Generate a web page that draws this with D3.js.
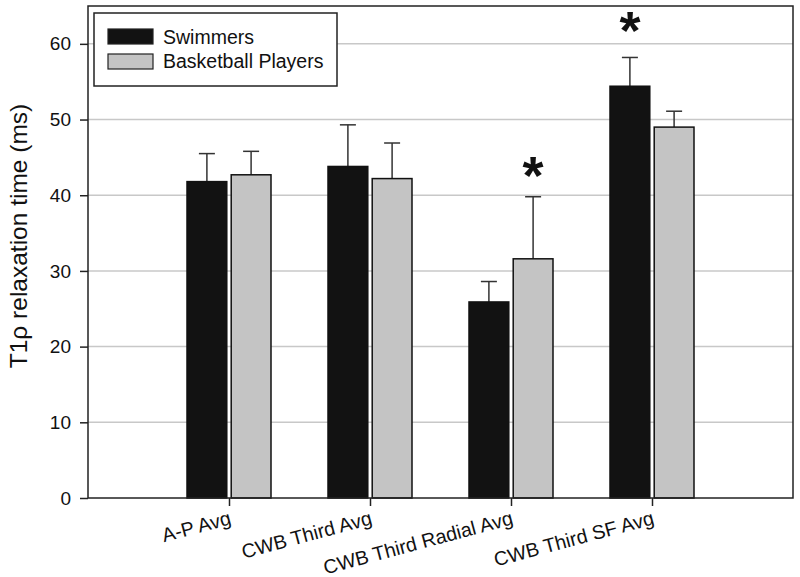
<!DOCTYPE html>
<html>
<head>
<meta charset="utf-8">
<script src="https://d3js.org/d3.v7.min.js"></script>
<style>
  body { margin: 0; background: #fff; }
  text { font-family: "Liberation Sans", Arial, sans-serif; fill: #111; }
</style>
</head>
<body>
<div id="my_dataviz"></div>
<script>
var categories = ["A-P Avg", "CWB Third Avg", "CWB Third Radial Avg", "CWB Third SF Avg"];
var groups = ["Swimmers", "Basketball Players"];
var swimmers = [41.8, 43.8, 25.9, 54.4];
var swimmersErr = [3.7, 5.5, 2.7, 3.8];
var basketball = [42.7, 42.2, 31.6, 49.0];
var basketballErr = [3.1, 4.7, 8.2, 2.1];
var yTicks = [0, 10, 20, 30, 40, 50, 60];
// significance markers: category, group, value where the star sits
var stars = [
  { cat: "CWB Third Radial Avg", group: "Basketball Players", value: 42.4 },
  { cat: "CWB Third SF Avg", group: "Swimmers", value: 61.6 }
];

var margin = { top: 6, right: 7, bottom: 79, left: 88 },
  width = 800 - margin.left - margin.right,
  height = 577 - margin.top - margin.bottom;

var svg = d3
  .select("#my_dataviz")
  .append("svg")
  .attr("width", width + margin.left + margin.right)
  .attr("height", height + margin.top + margin.bottom)
  .append("g")
  .attr("transform", "translate(" + margin.left + "," + margin.top + ")");

var data = categories.map(function(c, i) {
  return {
    cat: c,
    values: [
      { group: groups[0], value: swimmers[i], err: swimmersErr[i] },
      { group: groups[1], value: basketball[i], err: basketballErr[i] }
    ]
  };
});

var color = d3.scaleOrdinal().domain(groups).range(["#121212", "#c4c4c4"]);

var x = d3.scalePoint().domain(categories).range([0, width]).padding(1);
var x1 = d3.scaleBand().domain(groups).range([-42, 42]).paddingInner(0.1);
var y = d3.scaleLinear().domain([0, 65]).range([height, 0]);

// grid
svg
  .append("g")
  .selectAll("line")
  .data(yTicks.slice(1))
  .enter()
  .append("line")
  .attr("x1", 0)
  .attr("x2", width)
  .attr("y1", function(d) { return y(d); })
  .attr("y2", function(d) { return y(d); })
  .attr("stroke", "#c8c8c8")
  .attr("stroke-width", 1.5);

// y axis
var yAxis = svg
  .append("g")
  .call(d3.axisLeft(y).tickValues(yTicks).tickSize(8).tickPadding(9));
yAxis.select(".domain").remove();
yAxis.selectAll("line").attr("stroke", "#222").attr("stroke-width", 1.5);
yAxis
  .selectAll("text")
  .style("font-size", "19px")
  .style("font-family", "Liberation Sans, Arial, sans-serif")
  .attr("fill", "#111");

// x axis ticks
var xAxis = svg
  .append("g")
  .attr("transform", "translate(0," + height + ")")
  .call(d3.axisBottom(x).tickSize(8).tickFormat(""));
xAxis.select(".domain").remove();
xAxis.selectAll("line").attr("stroke", "#222").attr("stroke-width", 1.5);

svg
  .append("g")
  .selectAll("text")
  .data(categories)
  .enter()
  .append("text")
  .attr("transform", function(d) {
    return "translate(" + (x(d) + 3) + "," + (height + 26) + ") rotate(-15)";
  })
  .attr("text-anchor", "end")
  .style("font-size", "19.7px")
  .text(function(d) { return d; });

// bars
var groupsG = svg
  .append("g")
  .selectAll("g")
  .data(data)
  .enter()
  .append("g")
  .attr("transform", function(d) { return "translate(" + x(d.cat) + ",0)"; });

// error bars (upper only)
groupsG
  .selectAll("line.err")
  .data(function(d) { return d.values; })
  .enter()
  .append("line")
  .attr("class", "err")
  .attr("x1", function(d) { return x1(d.group) + x1.bandwidth() / 2; })
  .attr("x2", function(d) { return x1(d.group) + x1.bandwidth() / 2; })
  .attr("y1", function(d) { return y(d.value); })
  .attr("y2", function(d) { return y(d.value + d.err); })
  .attr("stroke", "#333")
  .attr("stroke-width", 1.5);

groupsG
  .selectAll("line.cap")
  .data(function(d) { return d.values; })
  .enter()
  .append("line")
  .attr("class", "cap")
  .attr("x1", function(d) { return x1(d.group) + x1.bandwidth() / 2 - 8; })
  .attr("x2", function(d) { return x1(d.group) + x1.bandwidth() / 2 + 8; })
  .attr("y1", function(d) { return y(d.value + d.err); })
  .attr("y2", function(d) { return y(d.value + d.err); })
  .attr("stroke", "#333")
  .attr("stroke-width", 1.5);

groupsG
  .selectAll("rect")
  .data(function(d) { return d.values; })
  .enter()
  .append("rect")
  .attr("x", function(d) { return x1(d.group); })
  .attr("y", function(d) { return y(d.value); })
  .attr("width", x1.bandwidth())
  .attr("height", function(d) { return height - y(d.value); })
  .attr("fill", function(d) { return color(d.group); })
  .attr("stroke", "#111")
  .attr("stroke-width", 1.5);

// stars
svg
  .append("g")
  .selectAll("text")
  .data(stars)
  .enter()
  .append("text")
  .attr("x", function(d) { return x(d.cat) + x1(d.group) + x1.bandwidth() / 2; })
  .attr("y", function(d) { return y(d.value) + 17; })
  .attr("text-anchor", "middle")
  .style("font-size", "54px")
  .style("font-weight", "bold")
  .text("*");

// frame
svg
  .append("rect")
  .attr("width", width)
  .attr("height", height)
  .attr("fill", "none")
  .attr("stroke", "#222")
  .attr("stroke-width", 1.5);

// legend
var legend = svg.append("g").attr("transform", "translate(6,7)");
legend
  .append("rect")
  .attr("width", 243)
  .attr("height", 73)
  .attr("fill", "#fff")
  .attr("stroke", "#222")
  .attr("stroke-width", 1.5);

var size = 15;
legend
  .selectAll("myrect")
  .data(groups)
  .enter()
  .append("rect")
  .attr("x", 14)
  .attr("y", function(d, i) { return 16 + i * 25; })
  .attr("width", 45)
  .attr("height", size)
  .attr("fill", function(d) { return color(d); })
  .attr("stroke", "#222")
  .attr("stroke-width", 1.2);

legend
  .selectAll("mylabels")
  .data(groups)
  .enter()
  .append("text")
  .attr("x", 69)
  .attr("y", function(d, i) { return 31 + i * 24; })
  .style("font-size", "19.5px")
  .text(function(d) { return d; });

// y axis title
svg
  .append("text")
  .attr("transform", "translate(" + (27 - margin.left) + "," + (236 - margin.top) + ") rotate(-90)")
  .attr("text-anchor", "middle")
  .style("font-size", "24.5px")
  .text("T1ρ relaxation time (ms)");
</script>
</body>
</html>
